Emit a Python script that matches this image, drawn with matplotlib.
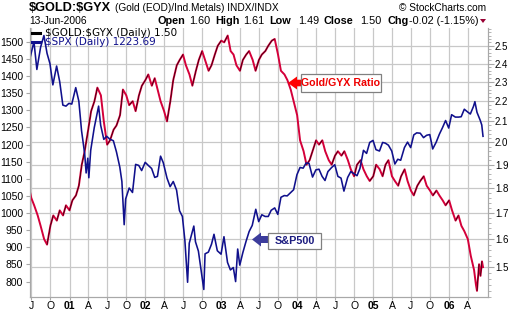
import matplotlib
matplotlib.use("Agg")
import matplotlib.pyplot as plt
import matplotlib.dates as mdates
from matplotlib.collections import LineCollection
from matplotlib.patches import Polygon, Rectangle
from matplotlib.ticker import FixedLocator, NullFormatter
import pandas as pd

# S&P 500 (left axis)
spx_dates = [
    "2000-06-26", "2000-07-14", "2000-07-28", "2000-08-15", "2000-08-31", "2000-09-15", "2000-09-29",
    "2000-10-13", "2000-10-31", "2000-11-15", "2000-11-30", "2000-12-15", "2000-12-29",
    "2001-01-12", "2001-01-31", "2001-02-15", "2001-02-28", "2001-03-15", "2001-03-22", "2001-03-30",
    "2001-04-04", "2001-04-13", "2001-04-30", "2001-05-21", "2001-05-31", "2001-06-15", "2001-06-29",
    "2001-07-13", "2001-07-31", "2001-08-15", "2001-08-31", "2001-09-10", "2001-09-21", "2001-09-28",
    "2001-10-15", "2001-10-31", "2001-11-15", "2001-11-30", "2001-12-14", "2001-12-31",
    "2002-01-15", "2002-01-31", "2002-02-15", "2002-02-28", "2002-03-15", "2002-03-28",
    "2002-04-15", "2002-04-30", "2002-05-15", "2002-05-31", "2002-06-14", "2002-06-28",
    "2002-07-10", "2002-07-23", "2002-07-31", "2002-08-22", "2002-08-30", "2002-09-13", "2002-09-30",
    "2002-10-09", "2002-10-15", "2002-10-31", "2002-11-15", "2002-11-27", "2002-12-13", "2002-12-31",
    "2003-01-14", "2003-01-31", "2003-02-14", "2003-02-28", "2003-03-11", "2003-03-21", "2003-03-31",
    "2003-04-15", "2003-04-30", "2003-05-15", "2003-05-30", "2003-06-16", "2003-06-30",
    "2003-07-15", "2003-07-31", "2003-08-15", "2003-08-29", "2003-09-15", "2003-09-30",
    "2003-10-15", "2003-10-31", "2003-11-14", "2003-11-28", "2003-12-15", "2003-12-31",
    "2004-01-15", "2004-01-30", "2004-02-13", "2004-02-27", "2004-03-15", "2004-03-31",
    "2004-04-15", "2004-04-30", "2004-05-14", "2004-05-28", "2004-06-15", "2004-06-30",
    "2004-07-15", "2004-07-30", "2004-08-13", "2004-08-31", "2004-09-15", "2004-09-30",
    "2004-10-15", "2004-10-29", "2004-11-15", "2004-11-30", "2004-12-15", "2004-12-31",
    "2005-01-14", "2005-01-31", "2005-02-15", "2005-02-28", "2005-03-15", "2005-03-31",
    "2005-04-15", "2005-04-29", "2005-05-13", "2005-05-31", "2005-06-15", "2005-06-30",
    "2005-07-15", "2005-07-29", "2005-08-15", "2005-08-31", "2005-09-15", "2005-09-30",
    "2005-10-14", "2005-10-31", "2005-11-15", "2005-11-30", "2005-12-15", "2005-12-30",
    "2006-01-13", "2006-01-31", "2006-02-15", "2006-02-28", "2006-03-15", "2006-03-31",
    "2006-04-13", "2006-04-28", "2006-05-05", "2006-05-15", "2006-05-31", "2006-06-07", "2006-06-13",
]
spx_values = [
    1455, 1500, 1419, 1484, 1518, 1466, 1436,
    1374, 1429, 1383, 1315, 1312, 1320,
    1318, 1366, 1326, 1240, 1173, 1117, 1160,
    1103, 1183, 1249, 1312, 1256, 1215, 1224,
    1216, 1211, 1178, 1134, 1092, 966, 1041,
    1073, 1060, 1142, 1139, 1124, 1148,
    1139, 1130, 1104, 1107, 1166, 1147,
    1102, 1077, 1092, 1067, 1007, 990,
    920, 798, 912, 962, 916, 889, 815,
    777, 881, 886, 909, 938, 890, 880,
    931, 856, 834, 841, 800, 895, 848,
    885, 917, 946, 964, 1011, 975,
    995, 990, 990, 1008, 1015, 996,
    1046, 1051, 1050, 1058, 1068, 1112,
    1133, 1131, 1146, 1145, 1105, 1126,
    1128, 1107, 1095, 1121, 1133, 1141,
    1107, 1102, 1064, 1104, 1121, 1115,
    1109, 1130, 1183, 1174, 1206, 1212,
    1185, 1181, 1206, 1204, 1198, 1181,
    1143, 1157, 1154, 1191, 1207, 1191,
    1228, 1234, 1233, 1220, 1227, 1229,
    1187, 1207, 1230, 1249, 1270, 1248,
    1287, 1280, 1280, 1281, 1303, 1295,
    1289, 1311, 1325, 1294, 1270, 1257, 1224,
]

# Gold / industrial metals ratio (right axis, log)
ratio_dates = [
    "2000-06-26", "2000-07-01", "2000-07-15", "2000-08-01", "2000-08-15", "2000-09-01", "2000-09-15",
    "2000-10-01", "2000-10-15", "2000-11-01", "2000-11-15", "2000-12-01", "2000-12-15",
    "2001-01-01", "2001-01-15", "2001-02-01", "2001-02-15", "2001-03-01", "2001-03-15",
    "2001-04-01", "2001-04-15", "2001-05-01", "2001-05-15", "2001-06-01", "2001-06-15",
    "2001-07-01", "2001-07-15", "2001-08-01", "2001-08-15", "2001-09-01", "2001-09-15",
    "2001-10-01", "2001-10-15", "2001-11-01", "2001-11-15", "2001-12-01", "2001-12-15",
    "2002-01-01", "2002-01-15", "2002-02-01", "2002-02-15", "2002-03-01", "2002-03-15",
    "2002-04-01", "2002-04-15", "2002-05-01", "2002-05-15", "2002-06-01", "2002-06-15",
    "2002-07-01", "2002-07-15", "2002-08-01", "2002-08-15", "2002-09-01", "2002-09-15",
    "2002-10-01", "2002-10-15", "2002-11-01", "2002-11-15", "2002-12-01", "2002-12-15",
    "2003-01-01", "2003-01-15", "2003-02-01", "2003-02-15", "2003-03-01", "2003-03-15",
    "2003-04-01", "2003-04-15", "2003-05-01", "2003-05-15", "2003-06-01", "2003-06-15",
    "2003-07-01", "2003-07-15", "2003-08-01", "2003-08-15", "2003-09-01", "2003-09-15",
    "2003-10-01", "2003-10-15", "2003-11-01", "2003-11-15", "2003-12-01", "2003-12-15",
    "2004-01-01", "2004-01-15", "2004-02-01", "2004-02-15", "2004-03-01", "2004-03-15",
    "2004-04-01", "2004-04-15", "2004-05-01", "2004-05-15", "2004-06-01", "2004-06-15",
    "2004-07-01", "2004-07-15", "2004-08-01", "2004-08-15", "2004-09-01", "2004-09-15",
    "2004-10-01", "2004-10-15", "2004-11-01", "2004-11-15", "2004-12-01", "2004-12-15",
    "2005-01-01", "2005-01-15", "2005-02-01", "2005-02-15", "2005-03-01", "2005-03-15",
    "2005-04-01", "2005-04-15", "2005-05-01", "2005-05-15", "2005-06-01", "2005-06-15",
    "2005-07-01", "2005-07-15", "2005-08-01", "2005-08-15", "2005-09-01", "2005-09-15",
    "2005-10-01", "2005-10-15", "2005-11-01", "2005-11-15", "2005-12-01", "2005-12-15",
    "2006-01-01", "2006-01-15", "2006-02-01", "2006-02-15", "2006-03-01", "2006-03-15",
    "2006-04-01", "2006-04-15", "2006-05-01", "2006-05-10", "2006-05-15", "2006-05-25",
    "2006-06-01", "2006-06-08", "2006-06-13",
]
ratio_values = [
    1.78, 1.76, 1.73, 1.69, 1.65, 1.60, 1.58,
    1.65, 1.69, 1.67, 1.71, 1.69, 1.73,
    1.71, 1.75, 1.77, 1.81, 1.90, 1.96,
    2.06, 2.15, 2.20, 2.27, 2.23, 2.10,
    1.99, 2.01, 2.06, 2.08, 2.13, 2.26,
    2.23, 2.18, 2.20, 2.15, 2.23, 2.28,
    2.31, 2.34, 2.28, 2.32, 2.26, 2.20,
    2.15, 2.10, 2.20, 2.31, 2.39, 2.42,
    2.45, 2.39, 2.34, 2.28, 2.36, 2.42,
    2.47, 2.42, 2.36, 2.39, 2.45, 2.50,
    2.53, 2.52, 2.56, 2.47, 2.45, 2.39,
    2.36, 2.42, 2.45, 2.47, 2.42, 2.36,
    2.42, 2.45, 2.47, 2.50, 2.53, 2.54,
    2.45, 2.36, 2.34, 2.31, 2.26, 2.20,
    2.13, 2.01, 1.96, 1.90, 1.92, 1.96,
    2.01, 1.99, 2.01, 1.96, 1.92, 1.90,
    1.94, 1.96, 1.94, 1.96, 1.92, 1.88,
    1.85, 1.90, 1.92, 1.88, 1.85, 1.83,
    1.85, 1.90, 1.88, 1.85, 1.90, 1.92,
    1.85, 1.83, 1.81, 1.85, 1.88, 1.83,
    1.79, 1.77, 1.81, 1.83, 1.85, 1.81,
    1.79, 1.77, 1.79, 1.77, 1.75, 1.73,
    1.75, 1.71, 1.67, 1.69, 1.65, 1.63,
    1.60, 1.54, 1.49, 1.44, 1.42, 1.51,
    1.47, 1.52, 1.50,
]

left_ticks = [800, 850, 900, 950, 1000, 1050, 1100, 1150, 1200, 1250, 1300, 1350, 1400, 1450, 1500]
right_ticks = [1.5, 1.6, 1.7, 1.8, 1.9, 2.0, 2.1, 2.2, 2.3, 2.4, 2.5]
quarter_starts = pd.date_range("2000-07-01", "2006-04-01", freq="QS")
quarter_labels = ["J", "O", "01", "A", "J", "O", "02", "A", "J", "O", "03", "A",
                  "J", "O", "04", "A", "J", "O", "05", "A", "J", "O", "06", "A"]

RED = "#d4003a"
NAVY = "#10108c"
GRID = "#c8c8c8"
SPINE = "#a8a8a8"
W, H = 508, 313

plt.rcParams["font.family"] = ["Liberation Sans", "DejaVu Sans"]

fig = plt.figure(figsize=(W / 100, H / 100), dpi=100)
fig.patch.set_facecolor("white")

ax = fig.add_axes([30 / W, 1 - 297 / H, 458 / W, 269 / H])
axl = ax.twinx()

ax.set_yscale("log")
ax.set_ylim(1.40, 2.605)
ax.yaxis.tick_right()
ax.yaxis.set_major_locator(FixedLocator(right_ticks))
ax.set_yticklabels([f"{v:.1f}" for v in right_ticks])
minor = [round(1.40 + 0.02 * i, 2) for i in range(61)]
ax.yaxis.set_minor_locator(FixedLocator(minor))
ax.yaxis.set_minor_formatter(NullFormatter())

xd = mdates.date2num(pd.to_datetime(ratio_dates))
ax.set_xlim(mdates.date2num(pd.Timestamp("2000-06-25")), mdates.date2num(pd.Timestamp("2006-07-07")))
ax.set_xticks(mdates.date2num(quarter_starts))
ax.set_xticklabels(quarter_labels)
for lab in ax.get_xticklabels():
    if lab.get_text()[0].isdigit():
        lab.set_fontweight("bold")

ax.grid(True, which="major", color=GRID, linewidth=0.9)
ax.set_axisbelow(True)
ax.tick_params(axis="y", which="major", length=4, color=SPINE, labelsize=7, pad=1)
ax.tick_params(axis="y", which="minor", length=2, color=SPINE)
ax.tick_params(axis="x", length=2, color=SPINE, labelsize=7.5, pad=1)
for a in (ax, axl):
    for side in ["left", "right", "bottom"]:
        a.spines[side].set_color(SPINE)
    a.spines["top"].set_visible(False)

# ratio: red line with thin black strokes on up moves
ax.plot(xd, ratio_values, color=RED, linewidth=1.4, zorder=3)
pts = list(zip(xd, ratio_values))
ups = [[pts[i - 1], pts[i]] for i in range(1, len(pts)) if ratio_values[i] > ratio_values[i - 1]]
ax.add_collection(LineCollection(ups, colors="black", linewidths=0.4, zorder=4))

axl.yaxis.tick_left()
axl.set_ylim(755, 1540)
axl.set_yticks(left_ticks)
axl.tick_params(axis="y", length=3, color=SPINE, labelsize=7.5, pad=2)
axl.plot(mdates.date2num(pd.to_datetime(spx_dates)), spx_values, color=NAVY, linewidth=1.15, zorder=2)


def px(x, y):
    return (x / W, 1 - y / H)


# header
fig.text(*px(29, 8), "\\$GOLD:\\$GYX", fontsize=9.2, fontweight="bold", va="center")
fig.text(*px(115, 8), "(Gold (EOD)/Ind.Metals) INDX/INDX", fontsize=7.3, va="center")
fig.text(*px(486, 8), "\u00a9 StockCharts.com", fontsize=7.3, va="center", ha="right")
fig.text(*px(29, 21), "13-Jun-2006", fontsize=7.4, va="center")
parts = [(157, "Open", True), (189, "1.60", False), (215, "High", True), (243, "1.61", False),
         (269, "Low", True), (298, "1.49", False), (324, "Close", True), (360, "1.50", False),
         (387, "Chg", True), (409, "-0.02 (-1.15%)", False)]
for x, s, b in parts:
    fig.text(*px(x, 21), s, fontsize=7.8, va="center", fontweight="bold" if b else "normal")
fig.patches.append(Polygon([px(480, 19), px(486, 19), px(483, 23)], closed=True,
                           transform=fig.transFigure, facecolor="#990033", edgecolor="none"))

# legend
for y, txt, c in [(32.5, "\\$GOLD:\\$GYX (Daily) 1.50", "black"), (42, "\\$SPX (Daily) 1223.69", NAVY)]:
    fig.lines.append(plt.Line2D([32 / W, 40 / W], [1 - y / H] * 2, color=c, linewidth=2.2,
                                transform=fig.transFigure))
    fig.text(*px(45, y), txt, fontsize=7.5, va="center", color=c, family="DejaVu Sans")


def callout(tip_x, tip_y, head_len, head_h, body_h, box, text, fc, tc, size):
    bx0, by0, bx1, by1 = box
    arrow = [px(tip_x, tip_y), px(tip_x + head_len, tip_y - head_h), px(tip_x + head_len, tip_y - body_h),
             px(bx0, tip_y - body_h), px(bx0, tip_y + body_h), px(tip_x + head_len, tip_y + body_h),
             px(tip_x + head_len, tip_y + head_h)]
    fig.patches.append(Polygon(arrow, closed=True, transform=fig.transFigure, facecolor=fc,
                               edgecolor="none", zorder=5))
    fig.patches.append(Rectangle(px(bx0, by1), (bx1 - bx0) / W, (by1 - by0) / H, transform=fig.transFigure,
                                 facecolor="white", edgecolor="#808080", linewidth=0.9, zorder=5))
    fig.text(*px((bx0 + bx1) / 2, (by0 + by1) / 2), text, fontsize=size, fontweight="bold", color=tc,
             ha="center", va="center", zorder=6)


callout(288, 83, 9, 6.5, 3.3, (301, 73.5, 381, 91.5), "Gold/GYX Ratio", "#ff0000", "#ee0000", 7.7)
callout(252, 239.5, 9, 7, 3.5, (268, 232.5, 321, 248.5), "S&P500", "#3c3c9c", "#1c1c80", 7.8)

fig.savefig("out.png", dpi=100, facecolor="white")
